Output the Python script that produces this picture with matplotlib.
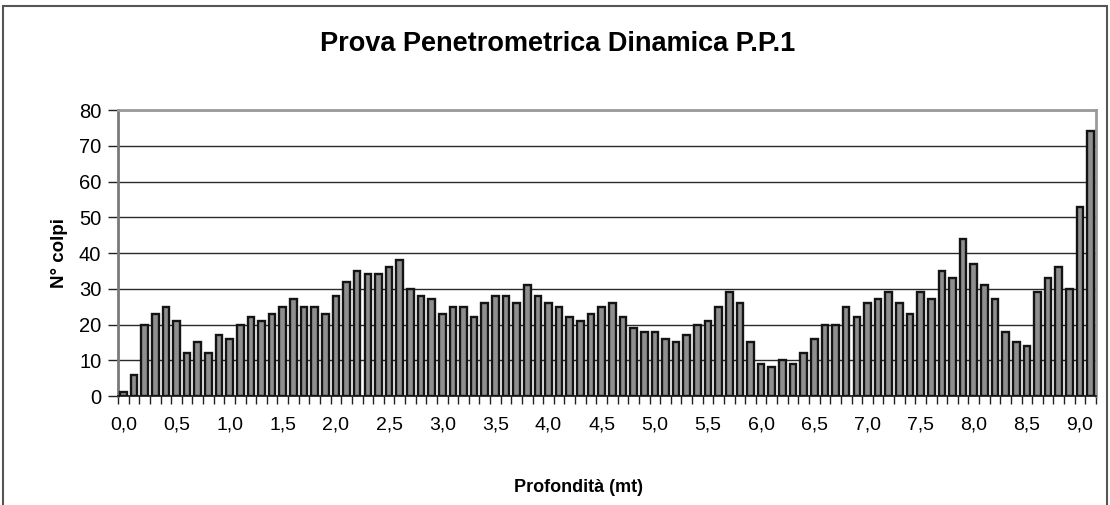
import numpy as np
import matplotlib.pyplot as plt
from matplotlib.patches import Rectangle

plt.rcParams['font.family'] = ['Liberation Sans', 'DejaVu Sans']

# profondita' (m) e numero di colpi per ogni tratto da 10 cm
depth = [round(0.1 * i, 1) for i in range(92)]
colpi = [1, 6, 20, 23, 25, 21, 12, 15, 12, 17,
         16, 20, 22, 21, 23, 25, 27, 25, 25, 23,
         28, 32, 35, 34, 34, 36, 38, 30, 28, 27,
         23, 25, 25, 22, 26, 28, 28, 26, 31, 28,
         26, 25, 22, 21, 23, 25, 26, 22, 19, 18,
         18, 16, 15, 17, 20, 21, 25, 29, 26, 15,
         9, 8, 10, 9, 12, 16, 20, 20, 25, 22,
         26, 27, 29, 26, 23, 29, 27, 35, 33, 44,
         37, 31, 27, 18, 15, 14, 29, 33, 36, 30,
         53, 74]
y_ticks = [0, 10, 20, 30, 40, 50, 60, 70, 80]

fig = plt.figure(figsize=(11.1, 5.05), dpi=100)
ax = fig.add_axes([118 / 1110, 1 - 396 / 505, (1096 - 118) / 1110, (396 - 110) / 505])

x = np.arange(len(depth))
ax.bar(x, colpi, width=0.62, color='#8f8f8f', edgecolor='#141414', linewidth=1.7, zorder=3)

ax.set_xlim(-0.5, len(depth) - 0.5)
ax.set_ylim(0, 80)
ax.set_yticks(y_ticks)
ax.set_yticklabels([str(v) for v in y_ticks])
ax.yaxis.grid(True, color='#2a2a2a', linewidth=1.0, zorder=0)

# etichette ogni 0,5 m, tacche tra una categoria e l'altra
ax.set_xticks(x[::5])
ax.set_xticklabels([f'{depth[i]:.1f}'.replace('.', ',') for i in x[::5]])
ax.tick_params(axis='x', length=0, labelsize=14, pad=15)
ax.set_xticks(np.arange(-0.5, len(depth), 1), minor=True)
ax.tick_params(axis='x', which='minor', length=6, width=1, color='#222222', direction='out')
ax.tick_params(axis='y', length=7, width=1, color='#222222', labelsize=14.5, pad=5)

for side in ['top', 'right']:
    ax.spines[side].set_color('#9a9a9a')
    ax.spines[side].set_linewidth(2)
ax.spines['left'].set_color('#7a7a7a')
ax.spines['left'].set_linewidth(2)
ax.spines['bottom'].set_color('#111111')
ax.spines['bottom'].set_linewidth(1.2)

fig.text(558 / 1110, 1 - 44 / 505, 'Prova Penetrometrica Dinamica P.P.1',
         ha='center', va='center', fontsize=19.5, fontweight='bold')
fig.text(578 / 1110, 1 - 488 / 505, 'Profondità (mt)',
         ha='center', va='center', fontsize=13, fontweight='bold')
fig.text(60 / 1110, 1 - 253 / 505, 'N° colpi', rotation=90,
         ha='center', va='center', fontsize=13.5, fontweight='bold')

# cornice del grafico
fig.patches.append(Rectangle((3 / 1110, -0.1), 1104 / 1110, 1.1 - 6 / 505,
                             transform=fig.transFigure, fill=False,
                             edgecolor='#555555', linewidth=1.5))

fig.savefig('out.png', dpi=100)
